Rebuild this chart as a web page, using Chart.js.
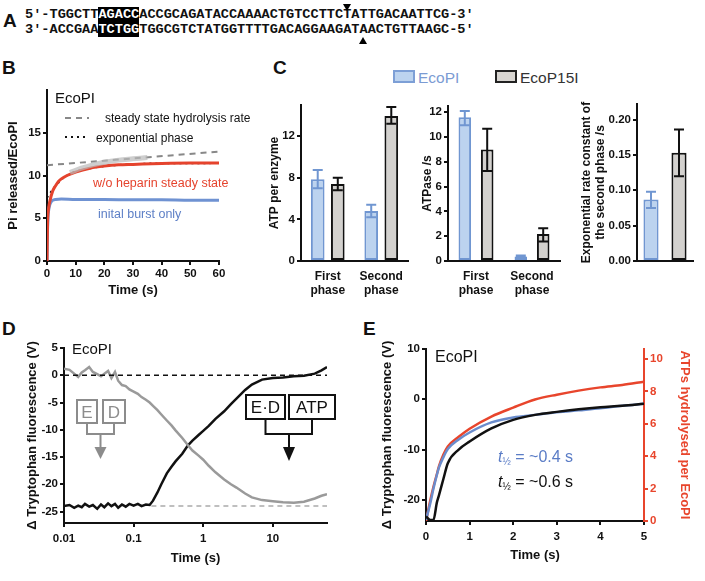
<!DOCTYPE html>
<html>
<head>
<meta charset="utf-8">
<script src="https://cdn.jsdelivr.net/npm/chart.js@4.4.1/dist/chart.umd.min.js"></script>
<style>
body{margin:0;width:705px;height:581px;position:relative;background:#fff;overflow:hidden;font-family:"Liberation Sans",Arial,sans-serif;color:#111}
canvas{position:absolute}
.t{position:absolute;white-space:nowrap;line-height:1}
.L{position:absolute;font-weight:bold;font-size:19px;line-height:1}
.seq{position:absolute;left:25px;font-family:"Liberation Mono","Courier New",monospace;font-weight:bold;font-size:13.6px;line-height:15px;white-space:pre}
.hl{background:#000;color:#fff;display:inline-block;height:15px;vertical-align:top}
.tri{position:absolute;width:0;height:0;border-left:4px solid transparent;border-right:4px solid transparent}
.sw{position:absolute;width:18px;height:9px;border:2px solid}
</style>
</head>
<body>

<!-- panel letters -->
<div class="L" style="left:3px;top:11px">A</div>
<div class="L" style="left:2px;top:58px">B</div>
<div class="L" style="left:273px;top:58px">C</div>
<div class="L" style="left:2px;top:319px">D</div>
<div class="L" style="left:363px;top:319px">E</div>

<!-- A: DNA substrate -->
<div class="seq" style="top:7px">5'-TGGCTT<span class="hl">AGACC</span>ACCGCAGATACCAAAACTGTCCTTCTATTGACAATTCG-3'</div>
<div class="seq" style="top:22px">3'-ACCGAA<span class="hl">TCTGG</span>TGGCGTCTATGGTTTTGACAGGAAGATAACTGTTAAGC-5'</div>
<div class="tri" style="left:343px;top:4px;border-top:7px solid #000"></div>
<div class="tri" style="left:359px;top:37px;border-bottom:7px solid #000"></div>

<canvas id="chartB" width="223" height="222" style="left:2px;top:80px"></canvas>
<canvas id="chartC1" width="149" height="216" style="left:263px;top:95px"></canvas>
<canvas id="chartC2" width="148" height="216" style="left:416px;top:95px"></canvas>
<canvas id="chartC3" width="130" height="216" style="left:575px;top:95px"></canvas>
<canvas id="chartD" width="314" height="235" style="left:21px;top:335px"></canvas>
<canvas id="chartE" width="320" height="232" style="left:376px;top:335px"></canvas>

<!-- B annotations -->
<div class="t" style="left:55px;top:90px;font-size:15px">EcoPI</div>
<div class="t" style="left:105px;top:112px;font-size:12px">steady state hydrolysis rate</div>
<div class="t" style="left:96px;top:132px;font-size:12px">exponential phase</div>
<div class="t" style="left:93px;top:177px;font-size:12.5px;color:#e5432d">w/o heparin steady state</div>
<div class="t" style="left:98px;top:208px;font-size:12.5px;color:#5d7fc6">inital burst only</div>

<!-- C legend -->
<div class="sw" style="left:393px;top:70px;background:#bcd3ef;border-color:#7d9fd6"></div>
<div class="t" style="left:418px;top:70px;font-size:15.5px;color:#7b9bd3">EcoPI</div>
<div class="sw" style="left:495px;top:70px;background:#d8d5d1;border-color:#222"></div>
<div class="t" style="left:520px;top:70px;font-size:15.5px;color:#333">EcoP15I</div>

<!-- D annotations -->
<div class="t" style="left:72px;top:341px;font-size:15px">EcoPI</div>
<svg style="position:absolute;left:0;top:0" width="705" height="581">
  <g fill="#fff" stroke="#8c8c8c" stroke-width="2">
    <rect x="77" y="400" width="20" height="23"/>
    <rect x="103" y="400" width="22" height="23"/>
    <path d="M87 423V434H114V423M100.5 434V449" fill="none"/>
  </g>
  <polygon points="94.5,447 106.5,447 100.5,459" fill="#8c8c8c"/>
  <g font-family="Liberation Sans, Arial, sans-serif" font-size="17" fill="#8c8c8c" text-anchor="middle">
    <text x="87" y="418">E</text>
    <text x="114" y="418">D</text>
  </g>
  <g fill="#fff" stroke="#111" stroke-width="2">
    <rect x="246" y="395" width="39" height="24"/>
    <rect x="289" y="395" width="46" height="24"/>
    <path d="M265.5 419V434H312V419M289 434V449" fill="none"/>
  </g>
  <polygon points="283,447 295,447 289,461" fill="#111"/>
  <g font-family="Liberation Sans, Arial, sans-serif" font-size="17" fill="#111" text-anchor="middle">
    <text x="265.5" y="413">E·D</text>
    <text x="312" y="413">ATP</text>
  </g>
</svg>

<!-- E annotations -->
<div class="t" style="left:435px;top:349px;font-size:16px">EcoPI</div>
<div class="t" style="left:498px;top:449px;font-size:16px;color:#5a7cc6"><i>t</i><span style="font-size:10px;vertical-align:-3px">½</span> = ~0.4 s</div>
<div class="t" style="left:498px;top:474px;font-size:16px;color:#111"><i>t</i><span style="font-size:10px;vertical-align:-3px">½</span> = ~0.6 s</div>

<script>
// ---- B: Pi release ----
const tRed  = [0, 0.2, 0.5, 1, 2, 3, 4, 5, 7, 10, 15, 20, 25, 30, 40, 50, 60];
const vRed  = [0, 4.5, 6.0, 7.0, 8.2, 8.8, 9.3, 9.6, 10.0, 10.4, 10.85, 11.1, 11.25, 11.3, 11.4, 11.45, 11.45];
const tBlue = [0, 0.1, 0.3, 0.6, 1, 1.5, 2, 3, 5, 10, 20, 30, 40, 50, 60];
const vBlue = [0, 2.5, 4.8, 6.0, 6.6, 6.95, 7.1, 7.2, 7.25, 7.2, 7.2, 7.15, 7.15, 7.1, 7.1];
const tExp  = [0, 1, 2, 3, 5, 7, 10, 15, 20, 30, 40, 60];
const vExp  = [7.4, 7.9, 8.35, 8.8, 9.5, 10.0, 10.45, 10.85, 11.1, 11.32, 11.42, 11.45];
const tSteady = [0, 60];
const vSteady = [11.2, 12.8];
const tBand = [8, 12, 16, 20, 25, 30, 35];
const vBand = [10.35, 10.85, 11.25, 11.55, 11.8, 11.95, 12.1];
const ticksB = [0, 5, 10, 15];

// ---- C: bar panels ----
const phases = [['First', 'phase'], ['Second', 'phase']];
const atpEcoPI = [7.85, 4.8],   atpEcoPILo = [7.0, 4.2],  atpEcoPIHi = [8.75, 5.4];
const atpP15I  = [7.4, 13.95],  atpP15ILo  = [6.8, 13.2], atpP15IHi  = [8.0, 14.8];
const rateEcoPI = [11.6, 0.37], rateEcoPILo = [10.95, 0.3], rateEcoPIHi = [12.1, 0.44];
const rateP15I  = [9.0, 2.17],  rateP15ILo  = [7.26, 1.58], rateP15IHi  = [10.66, 2.65];
const kEcoPI = [0.087], kEcoPILo = [0.075], kEcoPIHi = [0.098];
const kP15I  = [0.153], kP15ILo  = [0.12],  kP15IHi  = [0.186];

// ---- D: stopped-flow, log time ----
const tD = [0.010,0.012,0.014,0.016,0.018,0.020,0.023,0.026,0.030,0.034,0.038,0.043,0.048,0.054,0.060,0.068,0.077,0.087,0.10,0.115,0.13,0.15,0.17,0.19,0.22,0.25,0.3,0.35,0.4,0.5,0.6,0.7,0.85,1.0,1.2,1.5,2,2.5,3,4,5,7,10,14,20,28,40,50,60];
const vDblack = [-24.0,-23.8,-24.3,-23.9,-24.2,-23.6,-24.1,-23.8,-24.5,-23.7,-24.2,-23.5,-24.0,-23.6,-24.3,-23.7,-24.1,-23.6,-23.9,-23.6,-24.0,-23.7,-23.8,-23.0,-21.5,-20.0,-18.0,-16.8,-15.8,-14.4,-12.9,-12.0,-11.0,-10.2,-9.3,-8.0,-6.6,-5.3,-4.3,-2.7,-1.7,-0.8,-0.5,-0.4,-0.2,-0.1,0.3,0.9,1.5];
const vDgray  = [1.2,1.0,0.3,-0.3,0.5,0.9,1.5,0.6,0.2,-0.2,0.3,0.8,-0.5,0.6,-1.0,-1.8,-2.0,-2.6,-3.0,-3.4,-4.0,-4.5,-5.0,-5.6,-6.4,-7.2,-8.3,-9.2,-10.1,-11.5,-12.8,-13.8,-14.7,-15.5,-16.6,-17.8,-19.1,-20.0,-20.6,-21.7,-22.4,-22.9,-23.1,-23.3,-23.4,-23.2,-22.6,-22.1,-21.8];
const tDzero = [0.01, 60],  vDzero = [0, 0];
const tDbase = [0.18, 60],  vDbase = [-24, -24];
const ticksDx = [0.01, 0.1, 1, 10];
const ticksDy = [-25, -20, -15, -10, -5, 0, 5];

// ---- E: fluorescence vs ATP hydrolysis ----
const tE = [0, 0.1, 0.17, 0.25, 0.3, 0.4, 0.5, 0.75, 1, 1.5, 2, 2.5, 3, 3.5, 4, 4.5, 5];
const vEblue  = [-24, -20.6, -17.8, -15.0, -13.5, -11.5, -9.9, -8.0, -6.6, -4.6, -3.6, -3.1, -2.6, -2.2, -1.8, -1.3, -0.9];
const vEblack = [-23.3, -24, -24, -20.5, -19.0, -15.8, -12.7, -10.0, -8.4, -5.8, -4.1, -3.1, -2.5, -2.0, -1.6, -1.3, -0.9];
const vEred   = [0, 1.3, 2.1, 2.9, 3.4, 4.1, 4.6, 5.2, 5.7, 6.45, 7.0, 7.5, 7.8, 8.05, 8.25, 8.4, 8.6];
const ticksEy  = [-20, -10, 0, 10];
const ticksEy1 = [0, 2, 4, 6, 8, 10];

Chart.defaults.font.family = '"Liberation Sans", Arial, sans-serif';
Chart.defaults.color = '#111';
Chart.defaults.animation = false;
Chart.defaults.responsive = false;
Chart.defaults.plugins.legend.display = false;
Chart.defaults.plugins.tooltip.enabled = false;
Chart.defaults.elements.point.radius = 0;
Chart.defaults.elements.line.cubicInterpolationMode = 'monotone';

const tickFont = {size: 11.5, weight: 'bold'};
const titleFont = {size: 13, weight: 'bold'};

function pts(xs, ys) { return xs.map((x, i) => ({x: x, y: ys[i]})); }

function fixTicks(list) {
  return s => { s.ticks = list.map(v => ({value: v})); };
}

// plain black axis with outside tick marks
function axis(o) {
  const c = o.color || '#111';
  return Object.assign({
    grid: {display: true, drawOnChartArea: false, tickLength: 4, color: c, lineWidth: 2},
    border: {display: true, color: c, width: 2},
    ticks: {font: tickFont, color: c, padding: 2},
  }, o);
}

function fitY(w) { return s => { s.width = w; s.paddingTop = 0; s.paddingBottom = 0; }; }
function fitX(h) { return s => { s.height = h; s.paddingLeft = 0; s.paddingRight = 0; }; }

// error bars on grouped bars
const errorBars = {
  id: 'errorBars',
  afterDatasetsDraw(chart) {
    const ctx = chart.ctx, y = chart.scales.y;
    chart.data.datasets.forEach((ds, i) => {
      chart.getDatasetMeta(i).data.forEach((bar, j) => {
        const lo = y.getPixelForValue(ds.errLow[j]);
        const hi = y.getPixelForValue(ds.errHigh[j]);
        ctx.save();
        ctx.strokeStyle = ds.borderColor;
        ctx.lineWidth = 2;
        ctx.beginPath();
        ctx.moveTo(bar.x, lo); ctx.lineTo(bar.x, hi);
        ctx.moveTo(bar.x - 5, lo); ctx.lineTo(bar.x + 5, lo);
        ctx.moveTo(bar.x - 5, hi); ctx.lineTo(bar.x + 5, hi);
        ctx.stroke();
        ctx.restore();
      });
    });
  }
};

// legend samples inside panel B
const legendB = {
  id: 'legendB',
  afterDraw(chart) {
    const ctx = chart.ctx, a = chart.chartArea;
    ctx.save();
    ctx.lineWidth = 2;
    ctx.strokeStyle = '#888';
    ctx.setLineDash([6, 5]);
    ctx.beginPath(); ctx.moveTo(a.left + 18, 38); ctx.lineTo(a.left + 42, 38); ctx.stroke();
    ctx.strokeStyle = '#111';
    ctx.setLineDash([2, 4]);
    ctx.beginPath(); ctx.moveTo(a.left + 18, 57); ctx.lineTo(a.left + 42, 57); ctx.stroke();
    ctx.restore();
  }
};

// ---- B ----
new Chart(document.getElementById('chartB'), {
  type: 'line',
  data: {datasets: [
    {data: pts(tBand, vBand), borderColor: 'rgba(185,185,185,0.7)', borderWidth: 5},
    {data: pts(tSteady, vSteady), borderColor: '#888', borderWidth: 2, borderDash: [6, 5]},
    {data: pts(tRed, vRed), borderColor: '#e5432d', borderWidth: 3},
    {data: pts(tExp, vExp), borderColor: '#111', borderWidth: 2, borderDash: [2, 4]},
    {data: pts(tBlue, vBlue), borderColor: '#6f92d2', borderWidth: 3},
  ]},
  options: {
    layout: {padding: {top: 10, right: 6}},
    scales: {
      x: axis({type: 'linear', min: 0, max: 60, ticks: {font: tickFont, color: '#111', padding: 2, stepSize: 10},
        title: {display: true, text: 'Time (s)', font: titleFont, padding: 4}, afterFit: fitX(41)}),
      y: axis({min: 0, max: 20, afterBuildTicks: fixTicks(ticksB),
        title: {display: true, text: 'Pi released/EcoPI', font: titleFont, padding: 4}, afterFit: fitY(45)}),
    }
  },
  plugins: [legendB]
});

// ---- C ----
function barChart(id, labels, a, aLo, aHi, b, bLo, bHi, o) {
  const blue = {data: a, errLow: aLo, errHigh: aHi, backgroundColor: '#bcd3ef', borderColor: '#7096d1',
    borderWidth: 2, borderSkipped: false, categoryPercentage: o.cp, barPercentage: o.bp};
  const gray = {data: b, errLow: bLo, errHigh: bHi, backgroundColor: '#d3d1ce', borderColor: '#111',
    borderWidth: 2, borderSkipped: false, categoryPercentage: o.cp, barPercentage: o.bp};
  new Chart(document.getElementById(id), {
    type: 'bar',
    data: {labels: labels, datasets: [blue, gray]},
    options: {
      layout: {padding: {top: o.top, right: o.right}},
      scales: {
        x: {grid: {display: false}, border: {display: true, color: '#111', width: 2},
          ticks: {display: o.showX, font: {size: 12, weight: 'bold'}, color: '#111', padding: 0},
          afterFit: fitX(50)},
        y: axis({min: 0, max: o.max, afterBuildTicks: fixTicks(o.ticks),
          ticks: {font: tickFont, color: '#111', padding: 2, callback: o.fmt || (v => v)},
          title: {display: true, text: o.title, font: {size: 12, weight: 'bold'}, padding: 4},
          afterFit: fitY(o.w)}),
      }
    },
    plugins: [errorBars]
  });
}

barChart('chartC1', phases, atpEcoPI, atpEcoPILo, atpEcoPIHi, atpP15I, atpP15ILo, atpP15IHi,
  {top: 10, right: 4, w: 38, max: 15, ticks: [0, 4, 8, 12], title: 'ATP per enzyme', cp: 0.75, bp: 0.68, showX: true});
barChart('chartC2', phases, rateEcoPI, rateEcoPILo, rateEcoPIHi, rateP15I, rateP15ILo, rateP15IHi,
  {top: 11, right: 4, w: 32, max: 12.5, ticks: [0, 2, 4, 6, 8, 10, 12], title: 'ATPase /s', cp: 0.8, bp: 0.56, showX: true});
barChart('chartC3', [''], kEcoPI, kEcoPILo, kEcoPIHi, kP15I, kP15ILo, kP15IHi,
  {top: 9, right: 12, w: 62, max: 0.222, ticks: [0, 0.05, 0.1, 0.15, 0.2], fmt: v => v.toFixed(2),
   title: ['Exponential rate constant of', 'the second phase /s'], cp: 1.0, bp: 0.54, showX: false});

// ---- D ----
new Chart(document.getElementById('chartD'), {
  type: 'line',
  data: {datasets: [
    {data: pts(tDzero, vDzero), borderColor: '#111', borderWidth: 1.5, borderDash: [5, 4]},
    {data: pts(tDbase, vDbase), borderColor: '#aaa', borderWidth: 1.5, borderDash: [5, 4]},
    {data: pts(tD, vDgray), borderColor: '#9a9a9a', borderWidth: 2.5, cubicInterpolationMode: 'default', tension: 0},
    {data: pts(tD, vDblack), borderColor: '#111', borderWidth: 2.5, cubicInterpolationMode: 'default', tension: 0},
  ]},
  options: {
    layout: {padding: {top: 13, right: 8}},
    scales: {
      x: axis({type: 'logarithmic', min: 0.01, max: 60, afterBuildTicks: fixTicks(ticksDx),
        ticks: {font: tickFont, color: '#111', padding: 5, callback: v => String(v)},
        title: {display: true, text: 'Time (s)', font: titleFont, padding: 4}, afterFit: fitX(47)}),
      y: axis({min: -27.1, max: 5, afterBuildTicks: fixTicks(ticksDy),
        title: {display: true, text: '\u0394 Tryptophan fluorescence (V)', font: titleFont, padding: 4}, afterFit: fitY(43)}),
    }
  }
});

// ---- E ----
new Chart(document.getElementById('chartE'), {
  type: 'line',
  data: {datasets: [
    {data: pts(tE, vEblack), borderColor: '#111', borderWidth: 2.5, yAxisID: 'y'},
    {data: pts(tE, vEblue), borderColor: '#6a8ccc', borderWidth: 2.5, yAxisID: 'y'},
    {data: pts(tE, vEred), borderColor: '#e8452c', borderWidth: 2.5, yAxisID: 'y1'},
  ]},
  options: {
    layout: {padding: {top: 14, right: 0}},
    scales: {
      x: axis({type: 'linear', min: 0, max: 5, ticks: {font: tickFont, color: '#111', padding: 5, stepSize: 1},
        title: {display: true, text: 'Time (s)', font: titleFont, padding: 4}, afterFit: fitX(46)}),
      y: axis({min: -24.2, max: 10, afterBuildTicks: fixTicks(ticksEy),
        title: {display: true, text: '\u0394 Tryptophan fluorescence (V)', font: titleFont, padding: 4}, afterFit: fitY(50)}),
      y1: axis({position: 'right', color: '#e8452c', min: 0, max: 10.62, afterBuildTicks: fixTicks(ticksEy1),
        ticks: {font: tickFont, color: '#e8452c', padding: 2},
        title: {display: true, text: 'ATPs hydrolysed per EcoPI', font: titleFont, color: '#e8452c', padding: 4},
        afterFit: fitY(52)}),
    }
  }
});
</script>
</body>
</html>
